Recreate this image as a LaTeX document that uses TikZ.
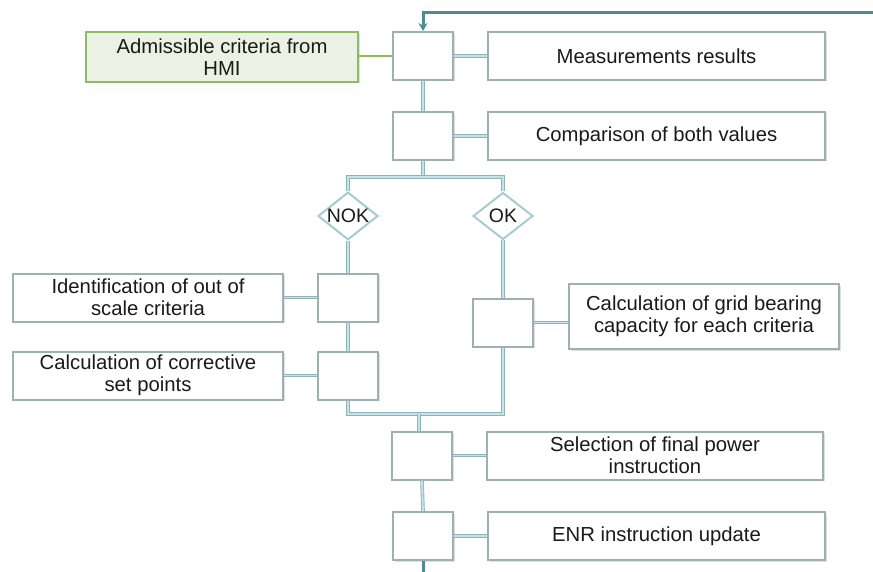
\documentclass[tikz,border=0pt]{standalone}
\usepackage{fontspec}
\setmainfont{Liberation Sans}
\usetikzlibrary{arrows.meta,shapes.geometric,shadows}
\definecolor{boxgray}{HTML}{9DB0B3}
\definecolor{linkedge}{HTML}{8FB3B8}
\definecolor{linkfill}{HTML}{C2E4EA}
\definecolor{diaedge}{HTML}{A6CCD1}
\definecolor{greenfill}{HTML}{EBF2E3}
\definecolor{greenedge}{HTML}{8EBB65}
\definecolor{greenline}{HTML}{8CC152}
\definecolor{teal}{HTML}{4D8D92}
\definecolor{txtcol}{HTML}{1A1A1A}
\begin{document}
\begin{tikzpicture}[x=1pt,y=-1pt,
  font=\fontsize{20.3}{22}\selectfont, text=txtcol,
  blk/.style={draw=boxgray, line width=2pt, fill=white, minimum width=60pt,
    minimum height=48pt, inner sep=0pt,
    drop shadow={shadow xshift=1.5pt, shadow yshift=-1.5pt, fill=black, opacity=0.12}},
  txtbox/.style={blk, align=center},
  diam/.style={diamond, draw=diaedge, line width=2pt, fill=white, aspect=1.25,
    minimum width=60pt, minimum height=47pt, inner sep=0pt, font=\fontsize{19.5}{22}\selectfont},
  link/.style={draw=linkedge, line width=0.9pt, double=linkfill, double distance=1.8pt},
  fb/.style={draw=teal, line width=3pt}
]
\useasboundingbox (0,0) rectangle (873,572);

% boxes
\node[blk] (b1) at (423,56) {};
\node[txtbox, minimum width=337pt] (meas) at (656.5,56) {Measurements results};
\node[txtbox, draw=greenedge, fill=greenfill, minimum width=272pt, minimum height=50pt] (hmi) at (222,57) {Admissible criteria from\\HMI};

\node[blk] (b2) at (423,136) {};
\node[txtbox, minimum width=337pt] (comp) at (656.5,136) {Comparison of both values};

\node[diam] (nok) at (348,216) {NOK};
\node[diam] (ok) at (503,216) {OK};

\node[blk] (n1) at (348,297.5) {};
\node[txtbox, minimum width=270pt] (ident) at (148,297.5) {Identification of out of\\scale criteria};
\node[blk] (n2) at (348,375.5) {};
\node[txtbox, minimum width=270pt] (corr) at (148,375.5) {Calculation of corrective\\set points};

\node[blk] (okb) at (503,322.5) {};
\node[txtbox, minimum width=270pt, minimum height=65pt] (grid) at (704,316.5) {Calculation of grid bearing\\capacity for each criteria};

\node[blk] (b3) at (422,455.5) {};
\node[txtbox, minimum width=336pt] (sel) at (655,455.5) {Selection of final power\\instruction};
\node[blk] (b4) at (423,536) {};
\node[txtbox, minimum width=337pt] (enr) at (656.5,536) {ENR instruction update};

% coordinates
\coordinate (fbs) at (873,13);
\coordinate (split) at (423,177);
\coordinate (merge) at (419,414);
\coordinate (exit) at (423,572);

% connectors
\draw[link] (b1.east) -- (meas.west);
\draw[link] (b2.east) -- (comp.west);
\draw[link] (b1.south) -- (b2.north);
\draw[link] (b2.south) -- (split);
\draw[link] (nok.north) |- (split) -| (ok.north);
\draw[link] (nok.south) -- (n1.north);
\draw[link] (n1.south) -- (n2.north);
\draw[link] (n1.west) -- (ident.east);
\draw[link] (n2.west) -- (corr.east);
\draw[link] (ok.south) -- (okb.north);
\draw[link] (okb.east) -- (okb.east -| grid.west);
\draw[link] (n2.south) |- (merge) -| (okb.south);
\draw[link] (merge) -- (merge |- b3.north);
\draw[link] (b3.south) -- (b4.north);
\draw[link] (b3.east) -- (sel.west);
\draw[link] (b4.east) -- (enr.west);

\draw[draw=greenline, line width=2.5pt] (b1.west -| hmi.east) -- (b1.west);

\draw[fb, -{Stealth[length=8pt,width=9pt]}] (fbs) -| (b1.north);
\draw[fb] (b4.south) -- (exit);
\end{tikzpicture}
\end{document}
